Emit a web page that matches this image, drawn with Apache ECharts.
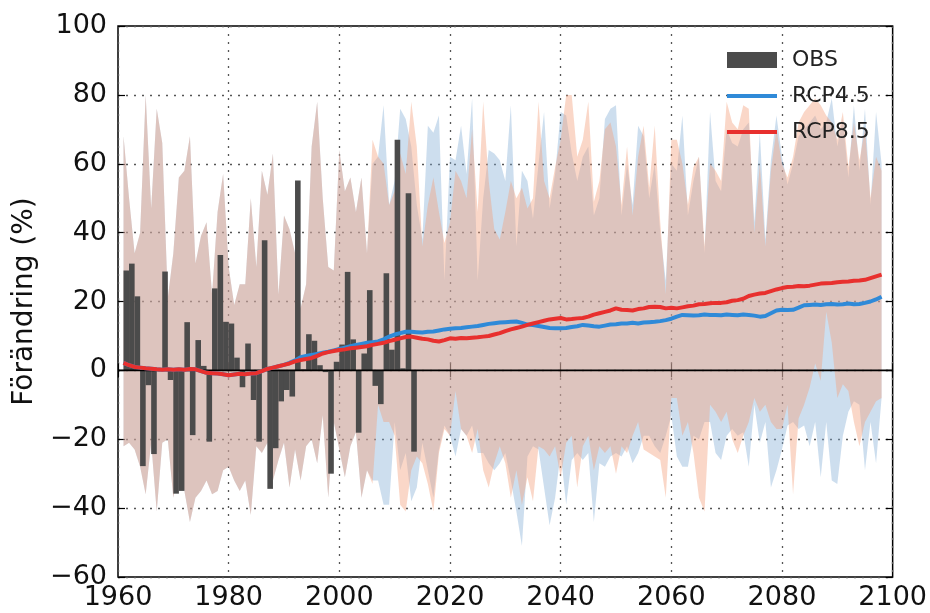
<!DOCTYPE html>
<html>
<head>
<meta charset="utf-8">
<script src="https://cdn.jsdelivr.net/npm/echarts@6/dist/echarts.min.js"></script>
<style>
html,body{margin:0;padding:0;background:#fff;}
#chart{width:930px;height:613px;}
</style>
</head>
<body>
<div id="chart"></div>
<script>
// ---------- DATA ----------
const firstYear = 1961;      // first year of the model series
const obsFirstYear = 1961;

// Observed change (%) 1961-2013
const obsValues = [
  29, 31, 21.5, -27.8, -4.3, -24.3, 0, 28.7, -2.8, -35.8,
  -35, 14, -18.8, 8.8, 1.3, -20.7, 23.8, 33.5, 14.1, 13.6,
  3.7, -4.9, 7.8, -8.6, -20.7, 37.8, -34.4, -22.6, -9, -5.7,
  -7.6, 55.1, 0.3, 10.5, 8.6, 1.5, -0.5, -30, 2.5, 7.5,
  28.6, 9, -18.1, 4.9, 23.3, -4.5, -9.8, 28.2, 6, 67,
  0.6, 51.4, -23.6
];

// Ensemble envelope, common historical period 1961-2005
const histUpper = [
  68, 50, 34, 40, 80, 47, 76, 66, 21, 34,
  56, 58, 68, 31, 39, 43, 22, 46, 57, 30,
  19, 25, 25, 50, 30, 58, 51, 63, 22, 45,
  41, 34, 18, 25, 65, 78, 50, 30, 29, 64,
  52, 56, 46, 56, 34
];
const histLower = [
  -22, -21, -23, -28, -36, -21, -41, -21, -20, -37,
  -29, -35, -44, -37, -35, -32, -36, -35, -29, -28,
  -32, -35, -32, -42, -22, -24, -21, -32, -26, -21,
  -34, -23, -32, -22, -20, -27, -13, -37, -15, -23,
  -31, -22, -18, -37, -29
];

// Scenario envelopes 2006-2098
const rcp45Upper = [
  60, 62, 77, 48, 55, 76, 73, 65, 48, 38,
  71, 69, 74, 26, 62, 61, 71, 57, 79, 26,
  50, 64, 63, 61, 55, 77, 36, 58, 55, 44,
  60, 75, 47, 57, 75, 74, 63, 55, 62, 65,
  45, 50, 73, 76, 77, 45, 60, 48, 71, 68,
  50, 60, 40, 26, 60, 58, 74, 45, 55, 62,
  34, 75, 55, 52, 70, 66, 65, 70, 72, 43,
  69, 38, 61, 74, 62, 54, 60, 68, 70, 72,
  74, 70, 72, 79, 65, 73, 56, 77, 58, 76,
  48, 75, 60
];
const rcp45Lower = [
  -32, -32, -39, -39, -15, -29, -24, -38, -34, -21,
  -29, -37, -23, -16, -19, -25, -17, -19, -16, -24,
  -24, -27, -29, -27, -24, -32, -41, -51, -25, -22,
  -23, -34, -45, -37, -24, -39, -26, -24, -26, -24,
  -44, -27, -28, -25, -24, -25, -22, -27, -24, -19,
  -19, -22, -24, -19, -13, -25, -28, -28, -19, -20,
  -15, -15, -24, -26, -19, -17, -19, -18, -28, -10,
  -21, -15, -34, -29, -23, -16, -15, -17, -16, -22,
  -15, -31, -15, -32, -33, -19, -12, -9, -10, -29,
  -15, -27, -8
];
const rcp85Upper = [
  67, 62, 60, 48, 52, 63, 57, 78, 65, 36,
  48, 56, 46, 37, 43, 58, 55, 50, 70, 46,
  78, 55, 41, 38, 46, 55, 50, 53, 47, 50,
  78, 55, 50, 59, 67, 80, 80, 62, 67, 78,
  49, 55, 70, 72, 65, 48, 65, 45, 62, 71,
  53, 71, 43, 22, 67, 67, 60, 48, 59, 62,
  36, 60, 58, 55, 78, 72, 70, 77, 76, 40,
  60, 36, 58, 70, 60, 56, 62, 72, 75, 77,
  79, 77, 74, 72, 67, 75, 59, 72, 61, 70,
  50, 62, 58
];
const rcp85Lower = [
  -33, -10, -15, -15, -19, -39, -41, -29, -25, -27,
  -33, -41, -24, -17, -19, -6, -17, -19, -24, -17,
  -29, -34, -27, -22, -27, -37, -29, -39, -31, -38,
  -22, -23, -25, -22, -31, -21, -19, -34, -22, -19,
  -29, -22, -24, -22, -30, -22, -24, -19, -15, -23,
  -24, -25, -26, -37, -8, -8, -19, -15, -24, -37,
  -41, -10, -12, -15, -12, -20, -24, -19, -15, -8,
  -12, -10, -15, -17, -17, -10, -36, -14, -10, -5,
  2, -3, 17, 8, -8, -4, -6, -15, -22, -15,
  -12, -9, -8
];

// Ensemble means 1961-2098
const rcp45Mean = [
  2.2, 1.5, 1.0, 0.8, 0.6, 0.5, 0.3, 0.2, 0.3, 0.2,
  0.3, 0.2, 0.4, 0.3, -0.2, -0.7, -0.8, -0.9, -1.1, -1.4,
  -1.2, -1.0, -1.1, -0.9, -0.8, -0.2, 0.4, 0.8, 1.2, 1.6,
  2.2, 2.9, 3.8, 4.2, 4.5, 4.8, 5.1, 5.4, 5.8, 6.2,
  6.6, 7.0, 7.4, 7.7, 8.0, 8.2, 8.4, 9.0, 9.8, 10.4,
  10.8, 11.2, 11.2, 11.1, 11.0, 11.2, 11.3, 11.6, 11.9, 12.1,
  12.2, 12.3, 12.5, 12.7, 12.9, 13.2, 13.5, 13.7, 13.9, 14.0,
  14.1, 14.2, 13.8, 13.3, 13.2, 12.9, 12.6, 12.3, 12.2, 12.2,
  12.3, 12.6, 12.8, 13.2, 13.0, 12.8, 12.7, 13.0, 13.3, 13.4,
  13.6, 13.6, 13.8, 13.6, 13.9, 14.0, 14.1, 14.3, 14.6, 15.0,
  15.6, 16.1, 16.0, 15.9, 16.0, 16.2, 16.1, 16.1, 16.0, 16.2,
  16.1, 16.0, 16.2, 16.1, 15.9, 15.6, 15.8, 16.6, 17.4, 17.6,
  17.5, 17.6, 18.2, 18.9, 19.0, 19.1, 19.0, 19.2, 19.3, 19.1,
  19.2, 19.4, 19.2, 19.3, 19.6, 20.0, 20.6, 21.4
];
const rcp85Mean = [
  2.2, 1.5, 1.0, 0.8, 0.6, 0.5, 0.3, 0.2, 0.3, 0.2,
  0.3, 0.2, 0.4, 0.3, -0.2, -0.7, -0.8, -0.9, -1.1, -1.4,
  -1.2, -1.0, -1.1, -0.9, -0.8, -0.2, 0.4, 0.8, 1.2, 1.6,
  2.0, 2.6, 3.0, 3.3, 3.6, 4.2, 4.9, 5.3, 5.6, 5.9,
  6.1, 6.4, 6.6, 6.8, 7.0, 7.4, 7.7, 8.0, 8.5, 8.9,
  9.3, 9.7, 9.8, 9.5, 9.2, 9.0, 8.6, 8.4, 8.8, 9.3,
  9.2, 9.4, 9.3, 9.5, 9.6, 9.8, 10.0, 10.4, 10.8, 11.4,
  11.9, 12.3, 12.7, 13.2, 13.6, 14.0, 14.4, 14.8, 15.0, 15.2,
  14.8, 14.9, 15.1, 15.2, 15.6, 16.2, 16.6, 17.0, 17.4, 18.0,
  17.6, 17.5, 17.4, 17.8, 18.0, 18.4, 18.5, 18.4, 18.0, 18.2,
  18.0, 18.3, 18.6, 18.8, 19.2, 19.3, 19.5, 19.6, 19.6, 19.8,
  20.2, 20.4, 20.8, 21.6, 22.0, 22.3, 22.5, 23.0, 23.5, 23.9,
  24.2, 24.3, 24.5, 24.4, 24.6, 24.9, 25.2, 25.3, 25.4, 25.6,
  25.7, 25.8, 26.0, 26.1, 26.3, 26.8, 27.3, 27.8
];

const xTicks = {min: 1960, max: 2100, interval: 20};
const yTicks = {min: -60, max: 100, interval: 20};
const yAxisTitle = 'Förändring (%)';
const legendNames = ['OBS', 'RCP4.5', 'RCP8.5'];

// ---------- BUILD ----------
const FONT = 'DejaVu Sans';
const upper45 = histUpper.concat(rcp45Upper);
const lower45 = histLower.concat(rcp45Lower);
const upper85 = histUpper.concat(rcp85Upper);
const lower85 = histLower.concat(rcp85Lower);
const yearOf = i => firstYear + i;

// One filled polygon per scenario envelope, positioned with api.coord
function bandSeries(id, lower, upper, color) {
  const rows = lower.map((v, i) => [yearOf(i), v, upper[i]]);
  return {
    id: id, type: 'custom', silent: true, z: 1, clip: true,
    data: rows,
    encode: {x: 0, y: [1, 2]},
    renderItem: function (params, api) {
      if (params.dataIndex !== 0) return null;
      const pts = [];
      for (let i = 0; i < rows.length; i++) pts.push(api.coord([rows[i][0], rows[i][2]]));
      for (let i = rows.length - 1; i >= 0; i--) pts.push(api.coord([rows[i][0], rows[i][1]]));
      return {type: 'polygon', shape: {points: pts}, style: {fill: color, stroke: null}};
    }
  };
}

const minusFmt = v => String(v).replace('-', '\u2212');
const tickStyle = {show: true, inside: true, length: 7, lineStyle: {color: '#000', width: 1.2}};
const gridLine = {show: true, lineStyle: {color: '#555', type: [2, 6], width: 1.3}};

const chart = echarts.init(document.getElementById('chart'), null, {renderer: 'canvas'});
chart.setOption({
  animation: false,
  backgroundColor: '#fff',
  grid: {left: 118, right: 37, top: 26, bottom: 36, show: true, borderColor: '#000', borderWidth: 1.5},
  legend: {
    z: 20,
    data: [
      {name: legendNames[0], icon: 'rect'},
      {name: legendNames[1], itemStyle: {opacity: 0}, lineStyle: {width: 4}},
      {name: legendNames[2], itemStyle: {opacity: 0}, lineStyle: {width: 4}}
    ],
    orient: 'vertical', left: 720, top: 44,
    itemWidth: 50, itemHeight: 16, itemGap: 14,
    textStyle: {fontFamily: FONT, fontSize: 22, color: '#222', padding: [0, 0, 0, 10]}
  },
  xAxis: [
    {type: 'value', min: xTicks.min, max: xTicks.max, interval: xTicks.interval,
     axisLine: {show: false}, axisTick: tickStyle,
     axisLabel: {fontFamily: FONT, fontSize: 27, color: '#111', margin: 7, formatter: v => String(v)},
     splitLine: gridLine},
    {type: 'value', position: 'top', min: xTicks.min, max: xTicks.max, interval: xTicks.interval,
     axisLine: {show: false}, axisTick: tickStyle, axisLabel: {show: false}, splitLine: {show: false}}
  ],
  yAxis: [
    {type: 'value', min: yTicks.min, max: yTicks.max, interval: yTicks.interval,
     name: yAxisTitle, nameLocation: 'middle', nameGap: 78,
     nameTextStyle: {fontFamily: FONT, fontSize: 28, color: '#111'},
     axisLine: {show: false}, axisTick: tickStyle,
     axisLabel: {fontFamily: FONT, fontSize: 27, color: '#111', margin: 11, formatter: minusFmt},
     splitLine: gridLine},
    {type: 'value', position: 'right', min: yTicks.min, max: yTicks.max, interval: yTicks.interval,
     axisLine: {show: false}, axisTick: tickStyle, axisLabel: {show: false}, splitLine: {show: false}}
  ],
  series: [
    bandSeries('band45', lower45, upper45, 'rgba(130,172,212,0.40)'),
    bandSeries('band85', lower85, upper85, 'rgba(243,160,124,0.42)'),
    {
      name: 'OBS', type: 'bar', barWidth: 5.6,
      data: obsValues.map((v, i) => [obsFirstYear + i + 0.5, v]),
      itemStyle: {color: '#4b4b4b'}, z: 3
    },
    {
      id: 'zeroLine', type: 'line', silent: true, z: 4,
      data: [[xTicks.min, 0], [xTicks.max, 0]],
      symbol: 'none', lineStyle: {color: '#000', width: 1.6}
    },
    {
      name: 'RCP4.5', type: 'line', data: rcp45Mean.map((v, i) => [yearOf(i), v]),
      symbol: 'none', showSymbol: false, lineStyle: {color: '#2f8ad8', width: 4}, itemStyle: {color: '#2f8ad8'}, z: 6
    },
    {
      name: 'RCP8.5', type: 'line', data: rcp85Mean.map((v, i) => [yearOf(i), v]),
      symbol: 'none', showSymbol: false, lineStyle: {color: '#e8302e', width: 4}, itemStyle: {color: '#e8302e'}, z: 7
    }
  ]
});
</script>
</body>
</html>
